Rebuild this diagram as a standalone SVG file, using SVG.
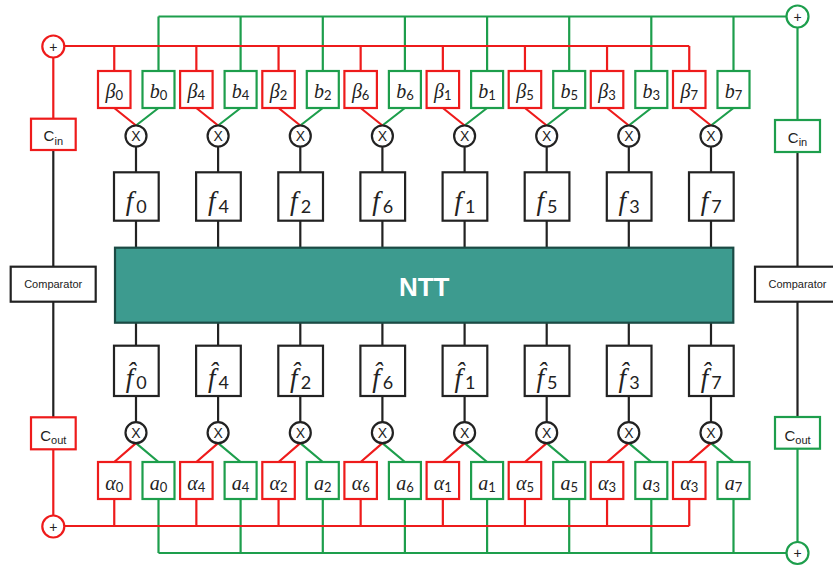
<svg xmlns="http://www.w3.org/2000/svg" width="833" height="567" viewBox="0 0 833 567">
  <style>
    .wire { fill: none; stroke-width: 2.2; }
    .red { stroke: #ee1b1b; }
    .green { stroke: #1d9e4c; }
    .blk { stroke: #222222; }
    .rbox { fill: #ffffff; stroke: #ee1b1b; stroke-width: 2.2; }
    .gbox { fill: #ffffff; stroke: #1d9e4c; stroke-width: 2.2; }
    .kbox { fill: #ffffff; stroke: #222222; stroke-width: 2.2; }
    .ntt { fill: #3d9b8f; stroke: #1b4a44; stroke-width: 2.2; }
    .lb { text-anchor: middle; fill: #222222; }
    .it { font-family: "Liberation Serif", "DejaVu Serif", serif; font-style: italic; font-size: 20px; }
    .fi { font-family: "Liberation Serif", "DejaVu Serif", serif; font-style: italic; font-size: 27px; }
    .sub { font-family: Lato, "Open Sans", "Liberation Sans", sans-serif; font-size: 13px; }
    .fsub { font-family: Lato, "Open Sans", "Liberation Sans", sans-serif; font-size: 18px; }
    .sans { font-family: "Liberation Sans", Arial, sans-serif; fill: #222222; text-anchor: middle; }
    .cin { font-size: 15px; }
    .csub { font-size: 11px; }
    .cmp { font-size: 11px; }
    .op { font-size: 14px; }
    .ttl { font-family: "Liberation Sans", Arial, sans-serif; font-weight: bold; font-size: 26px; fill: #ffffff; text-anchor: middle; }
  </style>

  <!-- connectors -->
  <g id="connectors">
    <!-- green buses (b and a coefficients) -->
    <path class="wire green" d="M158.5 16.5 H786.8 M158.5 16.5 V71 M240.6 16.5 V71 M322.8 16.5 V71 M404.9 16.5 V71 M487.1 16.5 V71 M569.2 16.5 V71 M651.3 16.5 V71 M733.5 16.5 V71 M797.5 27.5 V120"/>
    <path class="wire green" d="M158.5 108 L136 125.5 M240.6 108 L218.1 125.5 M322.8 108 L300.3 125.5 M404.9 108 L382.4 125.5 M487.1 108 L464.6 125.5 M569.2 108 L546.7 125.5 M651.3 108 L628.8 125.5 M733.5 108 L711 125.5"/>
    <path class="wire green" d="M136 443.2 L158.5 462 M218.1 443.2 L240.6 462 M300.3 443.2 L322.8 462 M382.4 443.2 L404.9 462 M464.6 443.2 L487.1 462 M546.7 443.2 L569.2 462 M628.8 443.2 L651.3 462 M711 443.2 L733.5 462"/>
    <path class="wire green" d="M158.5 553 H786.8 M158.5 499 V553 M240.6 499 V553 M322.8 499 V553 M404.9 499 V553 M487.1 499 V553 M569.2 499 V553 M651.3 499 V553 M733.5 499 V553 M797.5 448.7 V542"/>
    <!-- red buses (beta and alpha coefficients) -->
    <path class="wire red" d="M64.3 46 H689.25 M114.25 46 V71 M196.35 46 V71 M278.55 46 V71 M360.65 46 V71 M442.85 46 V71 M524.95 46 V71 M607.05 46 V71 M689.25 46 V71 M53.3 57.5 V118.7"/>
    <path class="wire red" d="M114.25 108 L136 125.5 M196.35 108 L218.1 125.5 M278.55 108 L300.3 125.5 M360.65 108 L382.4 125.5 M442.85 108 L464.6 125.5 M524.95 108 L546.7 125.5 M607.05 108 L628.8 125.5 M689.25 108 L711 125.5"/>
    <path class="wire red" d="M136 443.2 L114.25 462 M218.1 443.2 L196.35 462 M300.3 443.2 L278.55 462 M382.4 443.2 L360.65 462 M464.6 443.2 L442.85 462 M546.7 443.2 L524.95 462 M628.8 443.2 L607.05 462 M711 443.2 L689.25 462"/>
    <path class="wire red" d="M64.3 526 H689.25 M114.25 499 V526 M196.35 499 V526 M278.55 499 V526 M360.65 499 V526 M442.85 499 V526 M524.95 499 V526 M607.05 499 V526 M689.25 499 V526 M53.3 449.3 V515.5"/>
    <!-- black data paths -->
    <path class="wire blk" d="M136 146.5 V172.3 M136 220.7 V247.7 M136 322.7 V345.7 M136 396 V422.2
      M218.1 146.5 V172.3 M218.1 220.7 V247.7 M218.1 322.7 V345.7 M218.1 396 V422.2
      M300.3 146.5 V172.3 M300.3 220.7 V247.7 M300.3 322.7 V345.7 M300.3 396 V422.2
      M382.4 146.5 V172.3 M382.4 220.7 V247.7 M382.4 322.7 V345.7 M382.4 396 V422.2
      M464.6 146.5 V172.3 M464.6 220.7 V247.7 M464.6 322.7 V345.7 M464.6 396 V422.2
      M546.7 146.5 V172.3 M546.7 220.7 V247.7 M546.7 322.7 V345.7 M546.7 396 V422.2
      M628.8 146.5 V172.3 M628.8 220.7 V247.7 M628.8 322.7 V345.7 M628.8 396 V422.2
      M711 146.5 V172.3 M711 220.7 V247.7 M711 322.7 V345.7 M711 396 V422.2
      M53.3 150 V266.7 M53.3 301.7 V417.3 M797.5 152 V266.7 M797.5 301.7 V417"/>
  </g>

  <!-- adders -->
  <g id="add-top-red"><circle class="rbox" cx="53.3" cy="46.5" r="11"/><text class="sans op" x="53.3" y="51.5">+</text></g>
  <g id="add-top-green"><circle class="gbox" cx="797.5" cy="16.5" r="11"/><text class="sans op" x="797.5" y="21.5">+</text></g>
  <g id="add-bot-red"><circle class="rbox" cx="53.3" cy="526.5" r="11"/><text class="sans op" x="53.3" y="531.5">+</text></g>
  <g id="add-bot-green"><circle class="gbox" cx="797.5" cy="553" r="11"/><text class="sans op" x="797.5" y="558">+</text></g>

  <!-- checksum registers and comparators -->
  <g id="cin-left"><rect class="rbox" x="31" y="118.7" width="44.7" height="31.3"/><text class="sans" x="53.3" y="141.3"><tspan class="cin">C</tspan><tspan class="csub" dy="3.4">in</tspan></text></g>
  <g id="cout-left"><rect class="rbox" x="31" y="417.3" width="44.7" height="32"/><text class="sans" x="53.3" y="441.3"><tspan class="cin">C</tspan><tspan class="csub" dy="3">out</tspan></text></g>
  <g id="cmp-left"><rect class="kbox" x="10.7" y="266.7" width="85" height="35"/><text class="sans cmp" x="53.2" y="288.3">Comparator</text></g>
  <g id="cin-right"><rect class="gbox" x="775" y="120" width="45" height="32"/><text class="sans" x="797.5" y="142.5"><tspan class="cin">C</tspan><tspan class="csub" dy="3.4">in</tspan></text></g>
  <g id="cout-right"><rect class="gbox" x="775" y="417" width="45" height="31.7"/><text class="sans" x="797.5" y="441"><tspan class="cin">C</tspan><tspan class="csub" dy="3">out</tspan></text></g>
  <g id="cmp-right"><rect class="kbox" x="755" y="266.7" width="85" height="35"/><text class="sans cmp" x="797.5" y="288.3">Comparator</text></g>

  <!-- NTT block -->
  <g id="ntt"><rect class="ntt" x="115" y="247.7" width="618.3" height="75"/><text class="ttl" x="424.2" y="296">NTT</text></g>

  <!-- top row: beta / b coefficients -->
  <g id="beta0"><rect class="rbox" x="98" y="71" width="32.5" height="37"/><text class="lb" x="114.25" y="98"><tspan class="it">β</tspan><tspan class="sub" dy="2">0</tspan></text></g>
  <g id="b0"><rect class="gbox" x="142.5" y="71" width="32" height="37"/><text class="lb" x="158.5" y="98"><tspan class="it">b</tspan><tspan class="sub" dy="2">0</tspan></text></g>
  <g id="beta4"><rect class="rbox" x="180.1" y="71" width="32.5" height="37"/><text class="lb" x="196.35" y="98"><tspan class="it">β</tspan><tspan class="sub" dy="2">4</tspan></text></g>
  <g id="b4"><rect class="gbox" x="224.6" y="71" width="32" height="37"/><text class="lb" x="240.6" y="98"><tspan class="it">b</tspan><tspan class="sub" dy="2">4</tspan></text></g>
  <g id="beta2"><rect class="rbox" x="262.3" y="71" width="32.5" height="37"/><text class="lb" x="278.55" y="98"><tspan class="it">β</tspan><tspan class="sub" dy="2">2</tspan></text></g>
  <g id="b2"><rect class="gbox" x="306.8" y="71" width="32" height="37"/><text class="lb" x="322.8" y="98"><tspan class="it">b</tspan><tspan class="sub" dy="2">2</tspan></text></g>
  <g id="beta6"><rect class="rbox" x="344.4" y="71" width="32.5" height="37"/><text class="lb" x="360.65" y="98"><tspan class="it">β</tspan><tspan class="sub" dy="2">6</tspan></text></g>
  <g id="b6"><rect class="gbox" x="388.9" y="71" width="32" height="37"/><text class="lb" x="404.9" y="98"><tspan class="it">b</tspan><tspan class="sub" dy="2">6</tspan></text></g>
  <g id="beta1"><rect class="rbox" x="426.6" y="71" width="32.5" height="37"/><text class="lb" x="442.85" y="98"><tspan class="it">β</tspan><tspan class="sub" dy="2">1</tspan></text></g>
  <g id="b1"><rect class="gbox" x="471.1" y="71" width="32" height="37"/><text class="lb" x="487.1" y="98"><tspan class="it">b</tspan><tspan class="sub" dy="2">1</tspan></text></g>
  <g id="beta5"><rect class="rbox" x="508.7" y="71" width="32.5" height="37"/><text class="lb" x="524.95" y="98"><tspan class="it">β</tspan><tspan class="sub" dy="2">5</tspan></text></g>
  <g id="b5"><rect class="gbox" x="553.2" y="71" width="32" height="37"/><text class="lb" x="569.2" y="98"><tspan class="it">b</tspan><tspan class="sub" dy="2">5</tspan></text></g>
  <g id="beta3"><rect class="rbox" x="590.8" y="71" width="32.5" height="37"/><text class="lb" x="607.05" y="98"><tspan class="it">β</tspan><tspan class="sub" dy="2">3</tspan></text></g>
  <g id="b3"><rect class="gbox" x="635.3" y="71" width="32" height="37"/><text class="lb" x="651.3" y="98"><tspan class="it">b</tspan><tspan class="sub" dy="2">3</tspan></text></g>
  <g id="beta7"><rect class="rbox" x="673" y="71" width="32.5" height="37"/><text class="lb" x="689.25" y="98"><tspan class="it">β</tspan><tspan class="sub" dy="2">7</tspan></text></g>
  <g id="b7"><rect class="gbox" x="717.5" y="71" width="32" height="37"/><text class="lb" x="733.5" y="98"><tspan class="it">b</tspan><tspan class="sub" dy="2">7</tspan></text></g>

  <!-- top multipliers -->
  <g id="mul-top-0"><circle class="kbox" cx="136" cy="136" r="10.5"/><text class="sans op" x="136" y="141">X</text></g>
  <g id="mul-top-4"><circle class="kbox" cx="218.1" cy="136" r="10.5"/><text class="sans op" x="218.1" y="141">X</text></g>
  <g id="mul-top-2"><circle class="kbox" cx="300.3" cy="136" r="10.5"/><text class="sans op" x="300.3" y="141">X</text></g>
  <g id="mul-top-6"><circle class="kbox" cx="382.4" cy="136" r="10.5"/><text class="sans op" x="382.4" y="141">X</text></g>
  <g id="mul-top-1"><circle class="kbox" cx="464.6" cy="136" r="10.5"/><text class="sans op" x="464.6" y="141">X</text></g>
  <g id="mul-top-5"><circle class="kbox" cx="546.7" cy="136" r="10.5"/><text class="sans op" x="546.7" y="141">X</text></g>
  <g id="mul-top-3"><circle class="kbox" cx="628.8" cy="136" r="10.5"/><text class="sans op" x="628.8" y="141">X</text></g>
  <g id="mul-top-7"><circle class="kbox" cx="711" cy="136" r="10.5"/><text class="sans op" x="711" y="141">X</text></g>

  <!-- NTT inputs -->
  <g id="f0"><rect class="kbox" x="114" y="172.3" width="44.7" height="48.4"/><text class="lb" x="136.3" y="210"><tspan class="fi">f</tspan><tspan class="fsub" dx="3" dy="3">0</tspan></text></g>
  <g id="f4"><rect class="kbox" x="196.1" y="172.3" width="44.7" height="48.4"/><text class="lb" x="218.4" y="210"><tspan class="fi">f</tspan><tspan class="fsub" dx="3" dy="3">4</tspan></text></g>
  <g id="f2"><rect class="kbox" x="278.3" y="172.3" width="44.7" height="48.4"/><text class="lb" x="300.6" y="210"><tspan class="fi">f</tspan><tspan class="fsub" dx="3" dy="3">2</tspan></text></g>
  <g id="f6"><rect class="kbox" x="360.4" y="172.3" width="44.7" height="48.4"/><text class="lb" x="382.7" y="210"><tspan class="fi">f</tspan><tspan class="fsub" dx="3" dy="3">6</tspan></text></g>
  <g id="f1"><rect class="kbox" x="442.6" y="172.3" width="44.7" height="48.4"/><text class="lb" x="464.9" y="210"><tspan class="fi">f</tspan><tspan class="fsub" dx="3" dy="3">1</tspan></text></g>
  <g id="f5"><rect class="kbox" x="524.7" y="172.3" width="44.7" height="48.4"/><text class="lb" x="547" y="210"><tspan class="fi">f</tspan><tspan class="fsub" dx="3" dy="3">5</tspan></text></g>
  <g id="f3"><rect class="kbox" x="606.8" y="172.3" width="44.7" height="48.4"/><text class="lb" x="629.1" y="210"><tspan class="fi">f</tspan><tspan class="fsub" dx="3" dy="3">3</tspan></text></g>
  <g id="f7"><rect class="kbox" x="689" y="172.3" width="44.7" height="48.4"/><text class="lb" x="711.3" y="210"><tspan class="fi">f</tspan><tspan class="fsub" dx="3" dy="3">7</tspan></text></g>

  <!-- NTT outputs (f with combining circumflex) -->
  <g id="fh0"><rect class="kbox" x="114" y="345.7" width="44.7" height="50.3"/><text class="lb" x="136.3" y="387"><tspan class="fi">f&#x302;</tspan><tspan class="fsub" dx="3" dy="2">0</tspan></text></g>
  <g id="fh4"><rect class="kbox" x="196.1" y="345.7" width="44.7" height="50.3"/><text class="lb" x="218.4" y="387"><tspan class="fi">f&#x302;</tspan><tspan class="fsub" dx="3" dy="2">4</tspan></text></g>
  <g id="fh2"><rect class="kbox" x="278.3" y="345.7" width="44.7" height="50.3"/><text class="lb" x="300.6" y="387"><tspan class="fi">f&#x302;</tspan><tspan class="fsub" dx="3" dy="2">2</tspan></text></g>
  <g id="fh6"><rect class="kbox" x="360.4" y="345.7" width="44.7" height="50.3"/><text class="lb" x="382.7" y="387"><tspan class="fi">f&#x302;</tspan><tspan class="fsub" dx="3" dy="2">6</tspan></text></g>
  <g id="fh1"><rect class="kbox" x="442.6" y="345.7" width="44.7" height="50.3"/><text class="lb" x="464.9" y="387"><tspan class="fi">f&#x302;</tspan><tspan class="fsub" dx="3" dy="2">1</tspan></text></g>
  <g id="fh5"><rect class="kbox" x="524.7" y="345.7" width="44.7" height="50.3"/><text class="lb" x="547" y="387"><tspan class="fi">f&#x302;</tspan><tspan class="fsub" dx="3" dy="2">5</tspan></text></g>
  <g id="fh3"><rect class="kbox" x="606.8" y="345.7" width="44.7" height="50.3"/><text class="lb" x="629.1" y="387"><tspan class="fi">f&#x302;</tspan><tspan class="fsub" dx="3" dy="2">3</tspan></text></g>
  <g id="fh7"><rect class="kbox" x="689" y="345.7" width="44.7" height="50.3"/><text class="lb" x="711.3" y="387"><tspan class="fi">f&#x302;</tspan><tspan class="fsub" dx="3" dy="2">7</tspan></text></g>

  <!-- bottom multipliers -->
  <g id="mul-bot-0"><circle class="kbox" cx="136" cy="432.7" r="10.5"/><text class="sans op" x="136" y="437.7">X</text></g>
  <g id="mul-bot-4"><circle class="kbox" cx="218.1" cy="432.7" r="10.5"/><text class="sans op" x="218.1" y="437.7">X</text></g>
  <g id="mul-bot-2"><circle class="kbox" cx="300.3" cy="432.7" r="10.5"/><text class="sans op" x="300.3" y="437.7">X</text></g>
  <g id="mul-bot-6"><circle class="kbox" cx="382.4" cy="432.7" r="10.5"/><text class="sans op" x="382.4" y="437.7">X</text></g>
  <g id="mul-bot-1"><circle class="kbox" cx="464.6" cy="432.7" r="10.5"/><text class="sans op" x="464.6" y="437.7">X</text></g>
  <g id="mul-bot-5"><circle class="kbox" cx="546.7" cy="432.7" r="10.5"/><text class="sans op" x="546.7" y="437.7">X</text></g>
  <g id="mul-bot-3"><circle class="kbox" cx="628.8" cy="432.7" r="10.5"/><text class="sans op" x="628.8" y="437.7">X</text></g>
  <g id="mul-bot-7"><circle class="kbox" cx="711" cy="432.7" r="10.5"/><text class="sans op" x="711" y="437.7">X</text></g>

  <!-- bottom row: alpha / a coefficients -->
  <g id="alpha0"><rect class="rbox" x="98" y="462" width="32.5" height="37"/><text class="lb" x="114.25" y="489.5"><tspan class="it">α</tspan><tspan class="sub" dy="2">0</tspan></text></g>
  <g id="a0"><rect class="gbox" x="142.5" y="462" width="32" height="37"/><text class="lb" x="158.5" y="489.5"><tspan class="it">a</tspan><tspan class="sub" dy="2">0</tspan></text></g>
  <g id="alpha4"><rect class="rbox" x="180.1" y="462" width="32.5" height="37"/><text class="lb" x="196.35" y="489.5"><tspan class="it">α</tspan><tspan class="sub" dy="2">4</tspan></text></g>
  <g id="a4"><rect class="gbox" x="224.6" y="462" width="32" height="37"/><text class="lb" x="240.6" y="489.5"><tspan class="it">a</tspan><tspan class="sub" dy="2">4</tspan></text></g>
  <g id="alpha2"><rect class="rbox" x="262.3" y="462" width="32.5" height="37"/><text class="lb" x="278.55" y="489.5"><tspan class="it">α</tspan><tspan class="sub" dy="2">2</tspan></text></g>
  <g id="a2"><rect class="gbox" x="306.8" y="462" width="32" height="37"/><text class="lb" x="322.8" y="489.5"><tspan class="it">a</tspan><tspan class="sub" dy="2">2</tspan></text></g>
  <g id="alpha6"><rect class="rbox" x="344.4" y="462" width="32.5" height="37"/><text class="lb" x="360.65" y="489.5"><tspan class="it">α</tspan><tspan class="sub" dy="2">6</tspan></text></g>
  <g id="a6"><rect class="gbox" x="388.9" y="462" width="32" height="37"/><text class="lb" x="404.9" y="489.5"><tspan class="it">a</tspan><tspan class="sub" dy="2">6</tspan></text></g>
  <g id="alpha1"><rect class="rbox" x="426.6" y="462" width="32.5" height="37"/><text class="lb" x="442.85" y="489.5"><tspan class="it">α</tspan><tspan class="sub" dy="2">1</tspan></text></g>
  <g id="a1"><rect class="gbox" x="471.1" y="462" width="32" height="37"/><text class="lb" x="487.1" y="489.5"><tspan class="it">a</tspan><tspan class="sub" dy="2">1</tspan></text></g>
  <g id="alpha5"><rect class="rbox" x="508.7" y="462" width="32.5" height="37"/><text class="lb" x="524.95" y="489.5"><tspan class="it">α</tspan><tspan class="sub" dy="2">5</tspan></text></g>
  <g id="a5"><rect class="gbox" x="553.2" y="462" width="32" height="37"/><text class="lb" x="569.2" y="489.5"><tspan class="it">a</tspan><tspan class="sub" dy="2">5</tspan></text></g>
  <g id="alpha3"><rect class="rbox" x="590.8" y="462" width="32.5" height="37"/><text class="lb" x="607.05" y="489.5"><tspan class="it">α</tspan><tspan class="sub" dy="2">3</tspan></text></g>
  <g id="a3"><rect class="gbox" x="635.3" y="462" width="32" height="37"/><text class="lb" x="651.3" y="489.5"><tspan class="it">a</tspan><tspan class="sub" dy="2">3</tspan></text></g>
  <g id="alpha7"><rect class="rbox" x="673" y="462" width="32.5" height="37"/><text class="lb" x="689.25" y="489.5"><tspan class="it">α</tspan><tspan class="sub" dy="2">3</tspan></text></g>
  <g id="a7"><rect class="gbox" x="717.5" y="462" width="32" height="37"/><text class="lb" x="733.5" y="489.5"><tspan class="it">a</tspan><tspan class="sub" dy="2">7</tspan></text></g>
</svg>
